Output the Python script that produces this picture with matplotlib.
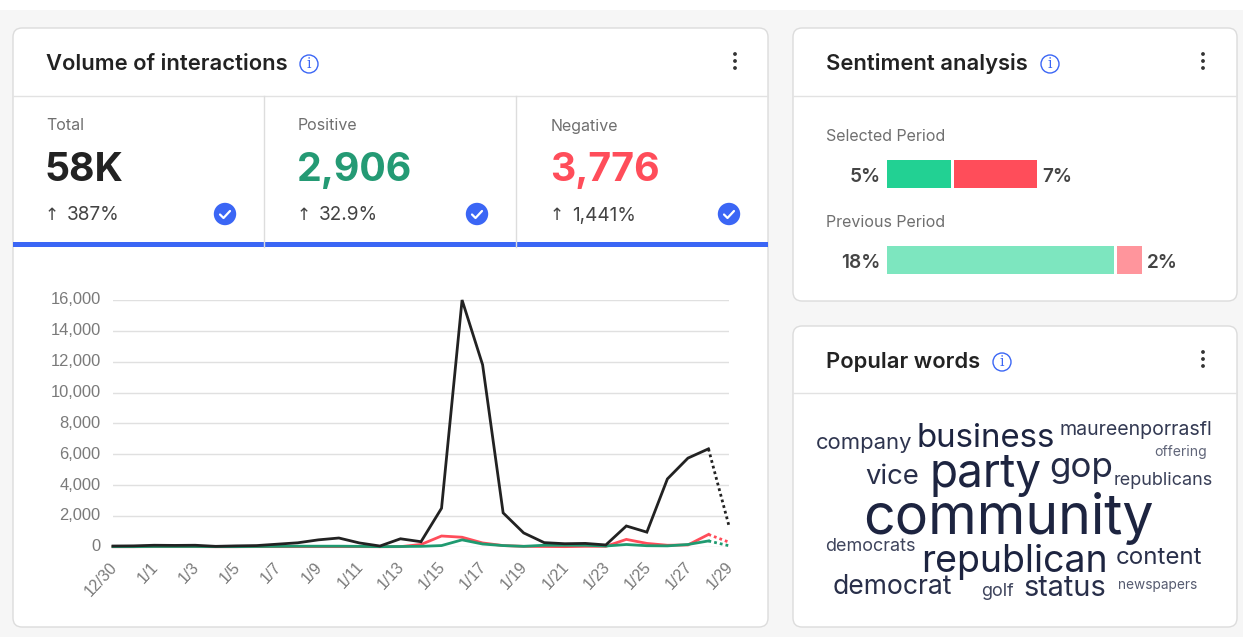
import matplotlib
matplotlib.use("Agg")
import matplotlib.pyplot as plt
from matplotlib.patches import FancyBboxPatch, Circle, Rectangle
from matplotlib.transforms import ScaledTranslation

W, H = 1243, 637
plt.rcParams['font.family'] = ['Inter', 'DejaVu Sans']

dates = ['12/30', '12/31'] + [f'1/{d}' for d in range(1, 30)]
total = [50, 60, 100, 90, 100, 30, 60, 80, 170, 260, 450, 570, 250, 50, 520, 330, 2500,
         16000, 11800, 2200, 900, 270, 200, 220, 120, 1350, 950, 4400, 5750, 6350, 1350]
positive = [10, 10, 20, 20, 20, 10, 10, 20, 30, 40, 40, 40, 30, 10, 20, 30, 80,
            450, 180, 80, 30, 100, 100, 100, 50, 150, 70, 60, 150, 380, 70]
negative = [5, 5, 10, 10, 10, 5, 5, 10, 10, 10, 10, 10, 10, 5, 10, 150, 700,
            620, 250, 80, 30, 20, 10, 30, 30, 480, 220, 100, 120, 800, 300]
y_ticks = [0, 2000, 4000, 6000, 8000, 10000, 12000, 14000, 16000]

kpi_labels = ['Total', 'Positive', 'Negative']
kpi_values = ['58K', '2,906', '3,776']
kpi_changes = ['387%', '32.9%', '1,441%']
kpi_colors = ['#222222', '#249a74', '#ff4d5a']

periods = ['Selected Period', 'Previous Period']
sent_pos = [5.1, 18.0]
sent_neg = [6.6, 2.0]
sent_pos_labels = ['5%', '18%']
sent_neg_labels = ['7%', '2%']
sent_pos_colors = ['#22d193', '#7de6bf']
sent_neg_colors = ['#ff4d5a', '#ff959c']

words = ['community', 'party', 'republican', 'business', 'gop', 'vice', 'democrat', 'status',
         'content', 'company', 'maureenporrasfl', 'republicans', 'democrats', 'golf',
         'newspapers', 'offering']
word_x = [863, 930, 921, 917, 1049, 865, 833, 1023, 1116, 816, 1060, 1114, 825, 981, 1118, 1154]
word_y = [534, 487, 572, 447, 477, 484, 594, 596, 564, 449, 435, 485, 551, 596, 589, 456]
word_px = [55.5, 46, 37.5, 33, 35, 27.5, 26.5, 29, 24, 22, 19.5, 18, 18, 18, 13.7, 14]
word_alpha = [1, 1, 1, 1, .97, .95, .95, .95, .95, .92, .9, .88, .85, .85, .75, .7]

INK = '#222222'
GREY = '#6f6f6f'
BLUE = '#3b66f5'
LINE = '#e2e2e2'
WORD = '#1d2440'

fig = plt.figure(figsize=(W / 100, H / 100), dpi=100, facecolor='white')
ui = fig.add_axes([0, 0, 1, 1])
ui.set_xlim(0, W)
ui.set_ylim(H, 0)
ui.axis('off')
ui.add_patch(Rectangle((0, 10), W, H - 10, fc='#f6f6f6', ec='none'))


def pt(px):
    return px * 0.72


def card(x0, y0, x1, y1):
    ui.add_patch(FancyBboxPatch((x0 + 9, y0 + 9), x1 - x0 - 18, y1 - y0 - 18,
                                boxstyle='round,pad=9,rounding_size=9',
                                fc='white', ec='#dcdcdc', lw=1))


def info(x, y):
    ui.add_patch(Circle((x, y), 9, fc='white', ec=BLUE, lw=1))
    ui.text(x, y + 0.5, 'i', color=BLUE, fontsize=pt(14), ha='center', va='center',
            family='DejaVu Serif')


def kebab(x, y):
    for dy in (-7, 0, 7):
        ui.add_patch(Circle((x, y + dy), 1.9, fc='#333333', ec='none'))


def header(x, y, title, ix, kx):
    ui.text(x, y + 8, title, color=INK, fontsize=pt(22), fontweight='semibold', va='baseline', ha='left')
    info(ix, y + 2)
    kebab(kx, y - 1)


card(13, 28, 768, 627)
card(793, 28, 1237, 301)
card(793, 326, 1237, 627)
header(46, 62, 'Volume of interactions', 309, 735)
header(826, 62, 'Sentiment analysis', 1050, 1203)
header(826, 360, 'Popular words', 1002, 1203)
for x0, x1, y in [(13, 768, 95.5), (793, 1237, 95.5), (793, 1237, 393)]:
    ui.plot([x0, x1], [y, y], color=LINE, lw=1, solid_capstyle='butt')
for x in (264.5, 516.5):
    ui.plot([x, x], [96, 247], color='#dddddd', lw=1)

# KPI tiles
kpi_x = [45, 297, 550]
seg = [(13, 264), (265, 516), (517, 768)]
check_x = [225, 477, 729]
for i in range(3):
    x = kpi_x[i]
    ui.text(x + 1, 130.5, kpi_labels[i], color=GREY, fontsize=pt(16), va='baseline', ha='left')
    ui.text(x, 181, kpi_values[i], color=kpi_colors[i], fontsize=pt(39.3), fontweight='bold',
            va='baseline', ha='left')
    ui.text(x, 220.5, '↑', color='#444444', fontsize=pt(17), va='baseline', ha='left', family='DejaVu Sans')
    ui.text(x + 22, 220.5, kpi_changes[i], color='#444444', fontsize=pt(19), va='baseline', ha='left')
    ui.add_patch(Rectangle((seg[i][0], 242), seg[i][1] - seg[i][0], 4.5, fc=BLUE, ec='none'))
    cx = check_x[i]
    ui.add_patch(Circle((cx, 214), 11.2, fc=BLUE, ec='none'))
    ui.plot([cx - 5, cx - 1.5, cx + 5], [214.5, 218, 211], color='white', lw=1.6,
            solid_capstyle='round', solid_joinstyle='round')

# Line chart
ax = fig.add_axes([113 / W, 1 - 546.8 / H, (729 - 113) / W, (546.8 - 300) / H])
xs = list(range(len(dates)))
ax.set_xlim(0, 30)
ax.set_ylim(0, 16000)
ax.patch.set_alpha(0)
for s in ax.spines.values():
    s.set_visible(False)
ax.set_yticks(y_ticks)
ax.set_yticklabels([f'{v:,}' for v in y_ticks], family='Liberation Sans', fontsize=pt(16.5), color='#7a7a7a')
ax.set_xticks(xs[::2])
ax.set_xticklabels(dates[::2], family='Liberation Sans', fontsize=pt(16), color='#7a7a7a',
                   rotation=47, ha='right', rotation_mode='anchor')
ax.tick_params(length=0)
ax.tick_params(axis='y', pad=9)
ax.tick_params(axis='x', pad=9)
shift = ScaledTranslation(0, 1.5 / 100, fig.dpi_scale_trans)
for lab in ax.get_yticklabels():
    lab.set_transform(lab.get_transform() + shift)
xshift = ScaledTranslation(-4 / 100, 0, fig.dpi_scale_trans)
for lab in ax.get_xticklabels():
    lab.set_transform(lab.get_transform() + xshift)
ax.grid(axis='y', color='#e0e0e0', lw=1)
ax.set_axisbelow(True)
for vals, col in [(negative, '#ff4d5a'), (positive, '#1f9a70'), (total, '#222222')]:
    ax.plot(xs[:30], vals[:30], color=col, lw=2.0, clip_on=False, solid_joinstyle='miter')
    ax.plot(xs[29:], vals[29:], color=col, lw=2.0, ls=(0, (1, 1.1)), clip_on=False)

# Sentiment bars
for name, yb in zip(periods, (141, 227)):
    ui.text(826, yb, name, color=GREY, fontsize=pt(16), va='baseline', ha='left')
sb = fig.add_axes([887 / W, 1 - 288 / H, 270 / W, 138 / H])
sb.set_xlim(0, 270 / 12.6)
sb.set_ylim(288, 150)
sb.axis('off')
sb.patch.set_alpha(0)
sent_y = [174, 260]
for i, yc in enumerate(sent_y):
    sb.barh(yc, sent_pos[i], height=28, color=sent_pos_colors[i], edgecolor='none')
    sb.barh(yc, sent_neg[i], left=sent_pos[i] + 0.24, height=28, color=sent_neg_colors[i], edgecolor='none')
    end = 887 + (sent_pos[i] + 0.24 + sent_neg[i]) * 12.6
    ui.text(881, yc + 7.5, sent_pos_labels[i], color='#444444', fontsize=pt(19), fontweight='semibold',
            va='baseline', ha='right')
    ui.text(end + 5, yc + 7.5, sent_neg_labels[i], color='#444444', fontsize=pt(19), fontweight='semibold',
            va='baseline', ha='left')

# Word cloud
for w, x, y, s, a in zip(words, word_x, word_y, word_px, word_alpha):
    ui.text(x, y, w, color=WORD, alpha=a, fontsize=pt(s), va='baseline', ha='left')

fig.savefig('out.png', dpi=100, facecolor='white')
